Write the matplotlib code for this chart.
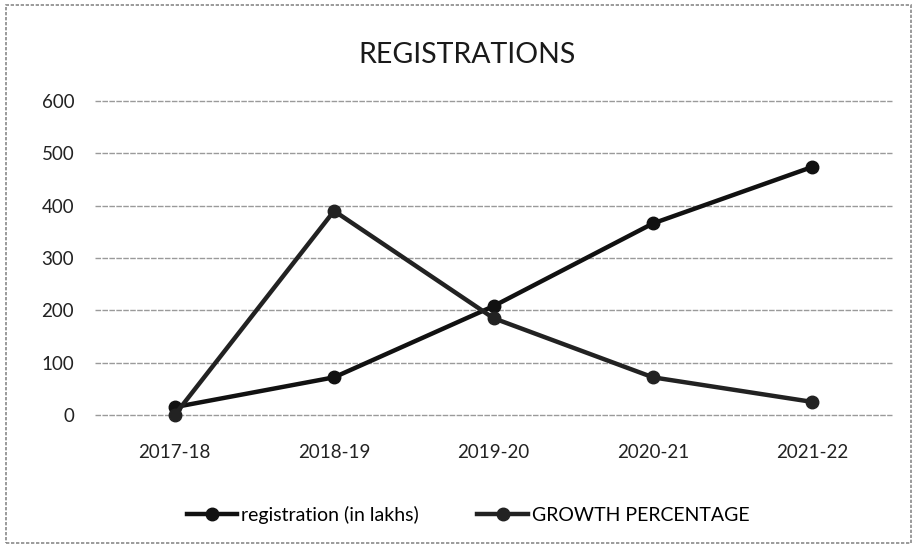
import matplotlib
matplotlib.use("Agg")
import matplotlib.pyplot as plt
from matplotlib.patches import Rectangle

years = ["2017-18", "2018-19", "2019-20", "2020-21", "2021-22"]
registration = [15, 72, 208, 366, 474]
growth_pct = [0, 390, 185, 72, 25]
y_ticks = [0, 100, 200, 300, 400, 500, 600]

plt.rcParams["font.family"] = ["Lato", "DejaVu Sans"]

fig = plt.figure(figsize=(9.17, 5.48), dpi=100)
ax = fig.add_axes([95 / 917, 1 - 415 / 548, (892 - 95) / 917, (415 - 101) / 548])

x = list(range(len(years)))
ax.plot(x, registration, color="#111111", lw=3.2, marker="o", ms=9,
        label="registration (in lakhs)", zorder=3, clip_on=False)
ax.plot(x, growth_pct, color="#222222", lw=3.2, marker="o", ms=9,
        label="GROWTH PERCENTAGE", zorder=3, clip_on=False)

ax.set_xlim(-0.5, len(years) - 0.5)
ax.set_ylim(0, 600)
ax.set_yticks(y_ticks)
ax.set_xticks(x)
ax.set_xticklabels(years)
ax.tick_params(length=0, labelsize=13.5, colors="#222222")
ax.tick_params(axis="x", pad=21)
ax.tick_params(axis="y", pad=15)
for v in y_ticks:
    ax.axhline(v, color="#9a9a9a", lw=1.0, linestyle=(0, (4, 1)),
               zorder=1, clip_on=False)
for s in ax.spines.values():
    s.set_visible(False)

fig.text(467 / 917, 1 - 55 / 548, "REGISTRATIONS", ha="center", va="center",
         fontsize=20.5, color="#1a1a1a")

leg = fig.legend(loc="center", bbox_to_anchor=(468 / 917, 1 - 515 / 548), ncol=2,
                 frameon=False, fontsize=14, handlelength=2.6, columnspacing=3.0,
                 handletextpad=0.2)

fig.patches.append(Rectangle((6 / 917, 5 / 548), 905 / 917, 538 / 548,
                             transform=fig.transFigure, fill=False,
                             edgecolor="#8a8a8a", lw=1.2, linestyle=(0, (2, 1))))

fig.savefig("out.png", dpi=100, facecolor="white")
